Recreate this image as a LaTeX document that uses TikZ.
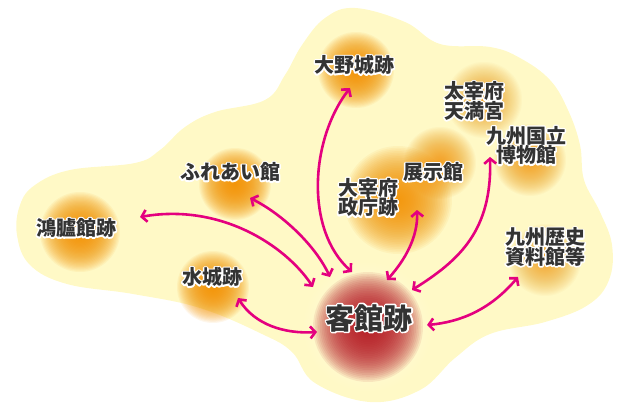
\documentclass[tikz,border=0pt]{standalone}
\usepackage{fontspec}
\newfontfamily\jp{Noto Sans CJK JP}
\usetikzlibrary{arrows.meta,calc}
\definecolor{blobc}{HTML}{FFF9C6}
\definecolor{glowc}{HTML}{F39200}
\definecolor{redc}{HTML}{B81C24}
\definecolor{arrc}{HTML}{E4007F}
\definecolor{txtc}{HTML}{333333}
\tikzset{
  lbl/.style={font=\jp\bfseries\fontsize{20}{19.5}\selectfont, text=txtc, align=center, inner sep=0pt},
  biglbl/.style={font=\jp\bfseries\fontsize{29}{30}\selectfont, text=txtc, align=center, inner sep=0pt},
  biarrow/.style={draw=arrc, line width=2.6pt,
    {Straight Barb[length=5pt,width=12pt]}-{Straight Barb[length=5pt,width=12pt]}},
}
\newcommand\outlon{\special{pdf:code 1 Tr 3 w 1 j 1 1 1 RG}}
\newcommand\outloff{\special{pdf:code 0 Tr}}
\newcommand\halolabel[4]{%
  \node[#3, text=white] at (#2) {\outlon #4\outloff};
  \node[#3] (#1) at (#2) {\outloff #4};
}
\newcommand\glowat[4]{%
  \foreach \i in {1,...,32} {\fill[#1, fill opacity=#4] (#2) circle ({#3*\i/32*1pt});}
}
\begin{document}
\begin{tikzpicture}[x=1pt,y=-1pt]
\useasboundingbox (0,0) rectangle (617,403);
% background blob
\fill[blobc] plot[smooth cycle, tension=0.65] coordinates {
 (355,8) (405,22) (440,44) (490,47) (520,58) (550,80) (568,110) (580,145)
 (584,180) (600,212) (612,245) (609,280) (588,305) (545,322) (490,334)
 (455,358) (420,390) (370,402) (315,383) (292,352) (262,334) (200,308)
 (133,294) (67,284) (30,265) (17,235) (20,205) (35,185) (70,170) (135,163)
 (160,150) (185,127) (215,112) (265,100) (285,75) (302,45) (325,18)};
% glows
\glowat{glowc}{356,70}{38}{0.075}
\glowat{glowc}{484,100}{38}{0.035}
\glowat{glowc}{530,160}{36}{0.045}
\glowat{glowc}{235,184}{36}{0.075}
\glowat{glowc}{398,200}{54}{0.065}
\glowat{glowc}{440,163}{36}{0.045}
\glowat{glowc}{80,232}{40}{0.075}
\glowat{glowc}{545,260}{36}{0.035}
\glowat{glowc}{213,287}{36}{0.075}
\glowat{white}{368,327}{64}{0.03}
\glowat{redc}{368,327}{55}{0.085}
% arrow end points
\coordinate (a1) at (140,217); \coordinate (b1) at (313,287);
\coordinate (a2) at (250,198); \coordinate (b2) at (330,277);
\coordinate (a3) at (350,88);  \coordinate (b3) at (352,272);
\coordinate (a4) at (417,210); \coordinate (b4) at (387,280);
\coordinate (a5) at (490,157); \coordinate (b5) at (412,290);
\coordinate (a6) at (518,277); \coordinate (b6) at (427,325);
\coordinate (a7) at (238,298); \coordinate (b7) at (317,332);
% arrows
\draw[biarrow] (a1) .. controls (220,203) and (285,245) .. (b1);
\draw[biarrow] (a2) .. controls (282,214) and (315,245) .. (b2);
\draw[biarrow] (a3) .. controls (310,140) and (305,230) .. (b3);
\draw[biarrow] (a4) .. controls (418,237) and (405,260) .. (b4);
\draw[biarrow] (a5) .. controls (492,230) and (460,260) .. (b5);
\draw[biarrow] (a6) .. controls (490,310) and (460,322) .. (b6);
\draw[biarrow] (a7) .. controls (255,325) and (285,334) .. (b7);
% labels
\halolabel{oono}{354,65}{lbl}{大野城跡}
\halolabel{tenman}{474,101}{lbl}{太宰府\\天満宮}
\halolabel{kyuhaku}{526,145.5}{lbl}{九州国立\\博物館}
\halolabel{fureai}{230,172}{lbl}{ふれあい館}
\halolabel{tenji}{433,172}{lbl}{展示館}
\halolabel{seicho}{368,197.5}{lbl}{大宰府\\政庁跡}
\halolabel{korokan}{76,228}{lbl}{鴻臚館跡}
\halolabel{rekishi}{545,247}{lbl}{九州歴史\\資料館等}
\halolabel{mizuki}{212,277}{lbl}{水城跡}
\halolabel{kyakkan}{369,318}{biglbl}{客館跡}
\end{tikzpicture}
\end{document}
